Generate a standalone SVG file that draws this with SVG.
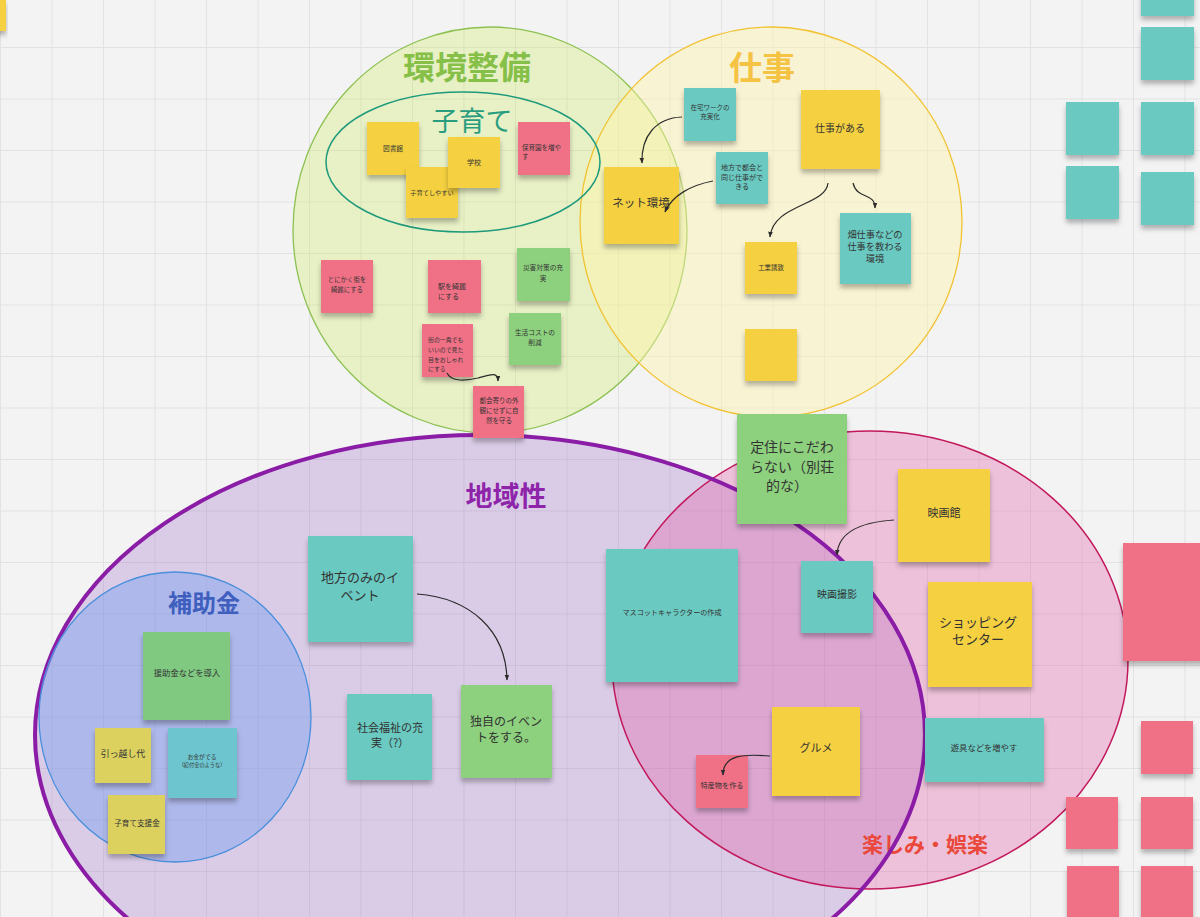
<svg xmlns="http://www.w3.org/2000/svg" width="1200" height="917" viewBox="0 0 1200 917">
<defs>
<pattern id="grid" width="51.5" height="51.5" patternUnits="userSpaceOnUse" x="0" y="-4.5">
<path d="M0,0.5 H51.5 M0.5,0 V51.5" fill="none" stroke="#e2e2e2" stroke-width="1"/>
</pattern>
<filter id="sh" x="-20%" y="-20%" width="140%" height="150%">
<feDropShadow dx="0" dy="4" stdDeviation="2.5" flood-color="#000" flood-opacity="0.28"/>
</filter>
<marker id="ah" viewBox="0 0 10 10" refX="9" refY="5" markerWidth="5" markerHeight="5" orient="auto">
<path d="M0,1 L10,5 L0,9 z" fill="#2b2b2b"/>
</marker>
</defs>
<style>
text{font-family:"Noto Sans CJK JP","Noto Sans",sans-serif;fill:#333;text-anchor:middle}
.title{font-weight:bold}
.n rect{filter:url(#sh)}
.y{fill:#f5d040}
.p{fill:#f07186}
.g{fill:#8dd07d}
.t{fill:#6bc9c1}
.yb{fill:#dcd05e}
.gb{fill:#80c981}
.tb{fill:#6dc5cf}
.l{text-anchor:start}
.c{fill:none;stroke:#2b2b2b;stroke-width:1.2;marker-end:url(#ah)}
</style>
<rect width="1200" height="917" fill="#f3f3f3"/>
<rect width="1200" height="917" fill="url(#grid)"/>

<g id="region-chiikisei">
<ellipse cx="480" cy="735" rx="445" ry="300" fill="rgba(142,86,194,0.25)"/>
</g>
<g id="region-tanoshimi">
<ellipse cx="870" cy="660" rx="258" ry="229" fill="rgba(225,80,160,0.3)" stroke="#c2185b" stroke-width="1.5"/>
<text class="title" x="925" y="852" font-size="21" style="fill:#e9483a">楽しみ・娯楽</text>
</g>
<g id="region-chiikisei-outline">
<ellipse cx="480" cy="735" rx="445" ry="300" fill="none" stroke="#8a1ca6" stroke-width="4"/>
<text class="title" x="506" y="506" font-size="27" style="fill:#8e24aa">地域性</text>
</g>
<g id="region-hojokin">
<ellipse cx="175" cy="717" rx="136" ry="145" fill="rgba(120,160,240,0.45)" stroke="#4a8fdc" stroke-width="1.3"/>
<text class="title" x="204" y="612" font-size="24" style="fill:#3f5fbf">補助金</text>
</g>
<g id="region-kankyo">
<ellipse cx="490" cy="230" rx="197" ry="203" fill="rgba(200,230,60,0.25)" stroke="#8cc152" stroke-width="1.3"/>
<text class="title" x="467" y="79" font-size="32" style="fill:#86c049">環境整備</text>
</g>
<g id="region-shigoto">
<ellipse cx="771" cy="222" rx="191" ry="195" fill="rgba(255,245,170,0.45)" stroke="#f2c233" stroke-width="1.3"/>
<text class="title" x="762" y="80" font-size="33" style="fill:#f5c343">仕事</text>
</g>
<g id="region-kosodate">
<ellipse cx="463" cy="162" rx="137" ry="70" fill="none" stroke="#1e9a7c" stroke-width="1.5"/>
<text x="472" y="131" font-size="27" style="fill:#2a9d80">子育て</text>
</g>

<!-- edge notes -->
<g id="edge-notes" class="n">
<rect class="y" x="-4" y="0" width="10" height="31"/>
<rect class="t" x="1141" y="-38" width="53" height="54"/>
<rect class="t" x="1141" y="27" width="53" height="53"/>
<rect class="t" x="1066" y="102" width="53" height="53"/>
<rect class="t" x="1141" y="102" width="53" height="53"/>
<rect class="t" x="1066" y="166" width="53" height="53"/>
<rect class="t" x="1141" y="172" width="53" height="53"/>
<rect class="p" x="1123" y="543" width="90" height="118"/>
<rect class="p" x="1141" y="721" width="52" height="53"/>
<rect class="p" x="1066" y="797" width="52" height="52"/>
<rect class="p" x="1141" y="797" width="52" height="52"/>
<rect class="p" x="1067" y="866" width="52" height="60"/>
<rect class="p" x="1141" y="866" width="52" height="60"/>
</g>

<g id="n-toshokan" class="n"><rect class="y" x="367" y="122" width="52" height="53"/><text x="393" y="151" font-size="6.7">図書館</text></g>
<g id="n-kosodateshiyasui" class="n"><rect class="y" x="406" y="167" width="52" height="51"/><text x="432" y="195" font-size="6.2">子育てしやすい</text></g>
<g id="n-gakko" class="n"><rect class="y" x="448" y="137" width="52" height="51"/><text x="474" y="165" font-size="7">学校</text></g>
<g id="n-hoikuen" class="n"><rect class="p" x="518" y="122" width="52" height="53"/><text class="l" x="522" y="150" font-size="6.5">保育園を増や</text><text class="l" x="522" y="159" font-size="6.5">す</text></g>

<g id="n-tonikaku" class="n"><rect class="p" x="321" y="260" width="52" height="53"/><text x="347" y="282" font-size="6.4">とにかく街を</text><text x="347" y="292" font-size="6.4">綺麗にする</text></g>
<g id="n-eki" class="n"><rect class="p" x="428" y="260" width="53" height="53"/><text class="l" x="438" y="289" font-size="7">駅を綺麗</text><text class="l" x="438" y="299" font-size="7">にする</text></g>
<g id="n-saigai" class="n"><rect class="g" x="517" y="248" width="53" height="53"/><text x="543" y="270" font-size="6.7">災害対策の充</text><text x="543" y="281" font-size="6.7">実</text></g>
<g id="n-seikatsu" class="n"><rect class="g" x="509" y="313" width="52" height="52"/><text x="535" y="335" font-size="6.7">生活コストの</text><text x="535" y="345" font-size="6.7">削減</text></g>
<g id="n-machi" class="n"><rect class="p" x="422" y="324" width="51" height="53"/><text class="l" x="428" y="342" font-size="5.9">街の一角でも</text><text class="l" x="428" y="352" font-size="5.9">いいので見た</text><text class="l" x="428" y="362" font-size="5.9">目をおしゃれ</text><text class="l" x="428" y="371" font-size="5.9">にする</text></g>
<g id="n-tokai" class="n"><rect class="p" x="473" y="386" width="51" height="52"/><text x="499" y="403" font-size="6.5">都会寄りの外</text><text x="499" y="413" font-size="6.5">観にせずに自</text><text x="499" y="423" font-size="6.5">然を守る</text></g>

<g id="n-zaitaku" class="n"><rect class="t" x="684" y="88" width="52" height="53"/><text x="710" y="110" font-size="6.5">在宅ワークの</text><text x="710" y="119" font-size="6.5">充実化</text></g>
<g id="n-shigotogaaru" class="n"><rect class="y" x="801" y="90" width="79" height="79"/><text x="840" y="132" font-size="10">仕事がある</text></g>
<g id="n-chihoude" class="n"><rect class="t" x="716" y="152" width="52" height="52"/><text x="742" y="170" font-size="7">地方で都会と</text><text x="742" y="180" font-size="7">同じ仕事がで</text><text x="742" y="189" font-size="7">きる</text></g>
<g id="n-net" class="n"><rect class="y" x="604" y="167" width="75" height="77"/><text x="641" y="207" font-size="11.5">ネット環境</text></g>
<g id="n-kogyo" class="n"><rect class="y" x="745" y="242" width="52" height="52"/><text x="771" y="270" font-size="6.4">工業誘致</text></g>
<g id="n-hatake" class="n"><rect class="t" x="840" y="213" width="71" height="71"/><text x="875" y="238" font-size="9.2">畑仕事などの</text><text x="875" y="250" font-size="9.2">仕事を教わる</text><text x="875" y="262" font-size="9.2">環境</text></g>
<g id="n-empty" class="n"><rect class="y" x="745" y="329" width="52" height="52"/></g>

<g id="n-teiju" class="n"><rect class="g" x="737" y="414" width="110" height="110"/><text x="792" y="452" font-size="14">定住にこだわ</text><text x="792" y="472" font-size="14">らない（別荘</text><text x="787" y="491" font-size="14">的な）</text></g>
<g id="n-eigakan" class="n"><rect class="y" x="898" y="469" width="92" height="93"/><text x="944" y="517" font-size="11">映画館</text></g>
<g id="n-eigasatsuei" class="n"><rect class="t" x="801" y="561" width="72" height="72"/><text x="837" y="598" font-size="10">映画撮影</text></g>
<g id="n-shopping" class="n"><rect class="y" x="928" y="582" width="104" height="105"/><text x="978" y="627" font-size="13">ショッピング</text><text x="978" y="644" font-size="13">センター</text></g>
<g id="n-mascot" class="n"><rect class="t" x="606" y="549" width="132" height="133"/><text x="672" y="615" font-size="7.1">マスコットキャラクターの作成</text></g>
<g id="n-gurume" class="n"><rect class="y" x="772" y="707" width="88" height="89"/><text x="816" y="752" font-size="11">グルメ</text></g>
<g id="n-tokusan" class="n"><rect class="p" x="696" y="755" width="52" height="53"/><text x="722" y="788" font-size="7.2">特産物を作る</text></g>
<g id="n-yugu" class="n"><rect class="t" x="925" y="718" width="119" height="64"/><text x="984" y="751" font-size="8.3">遊具などを増やす</text></g>

<g id="n-chihounomi" class="n"><rect class="t" x="308" y="536" width="105" height="106"/><text x="360" y="582" font-size="13">地方のみのイ</text><text x="360" y="600" font-size="13">ベント</text></g>
<g id="n-shakai" class="n"><rect class="t" x="347" y="694" width="85" height="86"/><text x="390" y="732" font-size="11">社会福祉の充</text><text x="390" y="747" font-size="11">実（?）</text></g>
<g id="n-dokuji" class="n"><rect class="g" x="461" y="685" width="91" height="93"/><text x="506" y="726" font-size="12">独自のイベン</text><text x="506" y="742" font-size="12">トをする。</text></g>

<g id="n-enjokin" class="n"><rect class="gb" x="143" y="632" width="87" height="88"/><text x="187" y="676" font-size="8.3">援助金などを導入</text></g>
<g id="n-hikkoshi" class="n"><rect class="yb" x="95" y="728" width="56" height="55"/><text x="123" y="757" font-size="8.9">引っ越し代</text></g>
<g id="n-okane" class="n"><rect class="tb" x="168" y="728" width="69" height="70"/><text x="202" y="759" font-size="5.8">お金がでる</text><text x="202" y="767" font-size="5.2">（給付金のような）</text></g>
<g id="n-kosodateshien" class="n"><rect class="yb" x="108" y="795" width="57" height="59"/><text x="137" y="826" font-size="7.6">子育て支援金</text></g>

<g id="connectors">
<path class="c" d="M447,373 C451,382 466,381 478,378 C492,374 498,372 498,381"/>
<path class="c" d="M682,117 C656,118 641,136 642,163"/>
<path class="c" d="M713,181 C692,185 672,195 665,212"/>
<path class="c" d="M828,183 C826,206 773,204 770,237"/>
<path class="c" d="M853,183 C857,200 875,192 875,208"/>
<path class="c" d="M894,520 C862,522 838,532 837,555"/>
<path class="c" d="M770,756 C745,754 723,754 723,775"/>
<path class="c" d="M417,594 C470,598 506,630 507,680"/>
</g>
</svg>
